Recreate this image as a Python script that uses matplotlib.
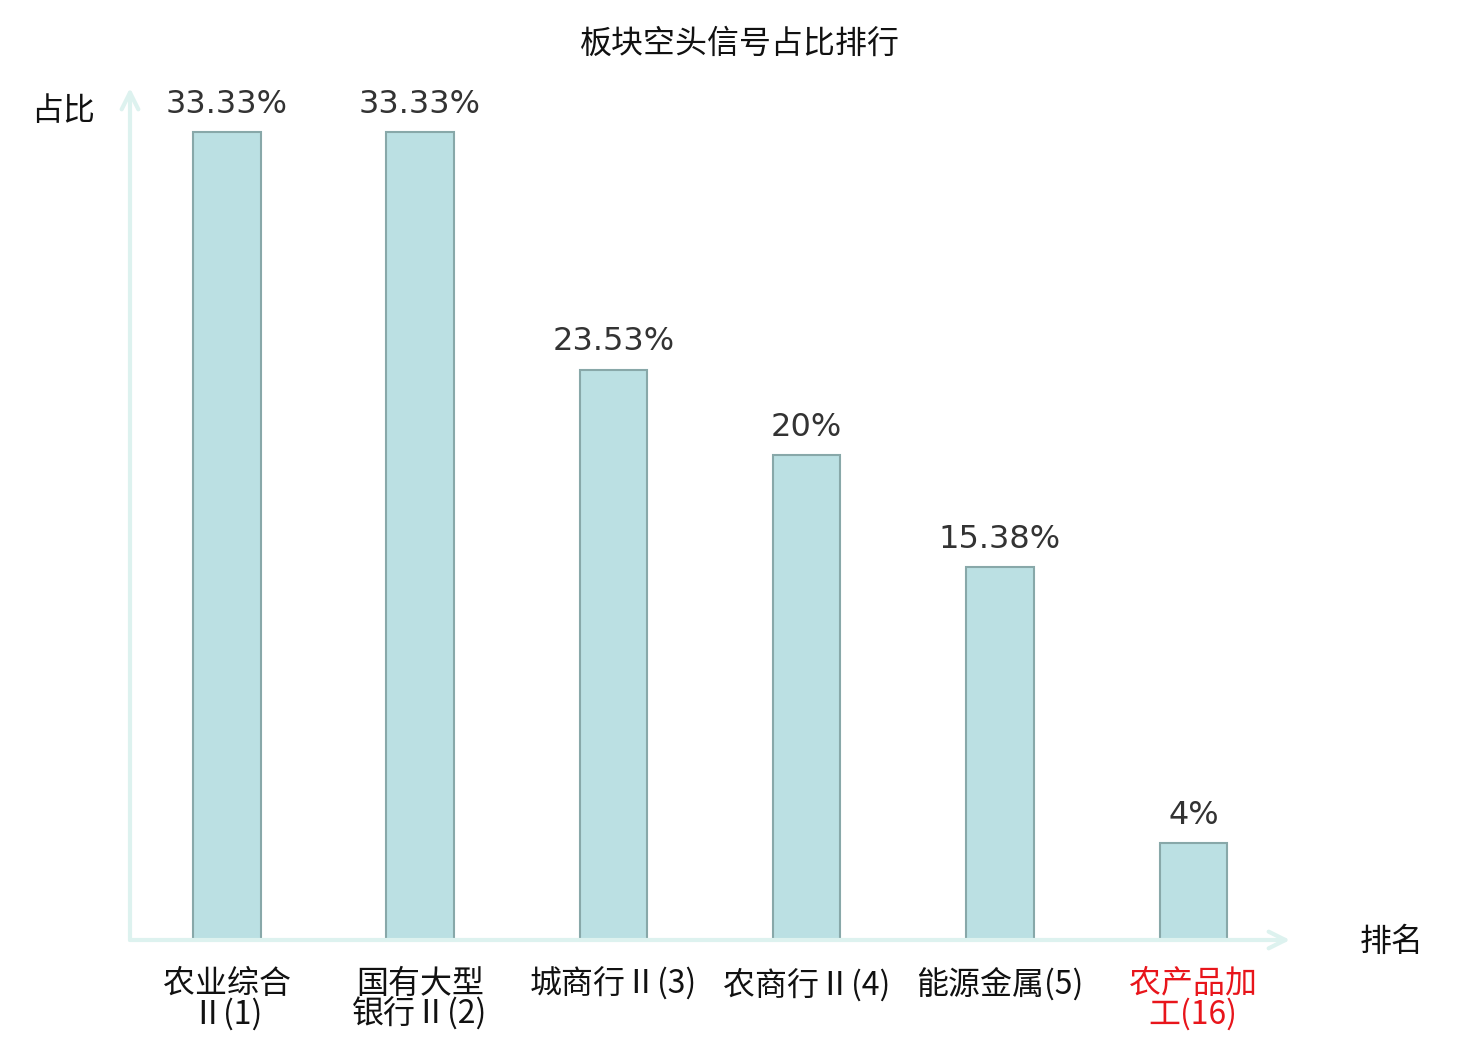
import matplotlib
matplotlib.use("Agg")
import matplotlib.pyplot as plt

categories = ["农业综合\nⅡ(1)", "国有大型\n银行Ⅱ(2)", "城商行Ⅱ(3)", "农商行Ⅱ(4)", "能源金属(5)", "农产品加\n工(16)"]
values = [33.33, 33.33, 23.53, 20, 15.38, 4]
value_labels = ["33.33%", "33.33%", "23.53%", "20%", "15.38%", "4%"]
label_colors = ["#111111", "#111111", "#111111", "#111111", "#111111", "#e8151b"]
title = "板块空头信号占比排行"
ylabel = "占比"
xlabel = "排名"

CJK = ["Noto Sans CJK SC", "DejaVu Sans"]
plt.rcParams["font.family"] = CJK

W, H = 1480, 1040
fig = plt.figure(figsize=(W / 100, H / 100), dpi=100)
ax = fig.add_axes([130 / W, 100 / H, 1160 / W, 852 / H])

x = list(range(len(values)))
ax.bar(x, values, width=0.35, color="#bbe0e3", edgecolor="#88a8a9", linewidth=1.5, zorder=3)
ax.set_xlim(-0.5, 5.5)
ax.set_ylim(0, 35.15)

for xi, v, lab in zip(x, values, value_labels):
    ax.annotate(lab, (xi, v), xytext=(0, 9), textcoords="offset points",
                ha="center", va="bottom", fontsize=23, color="#333333",
                family=["DejaVu Sans"])

for s in ax.spines.values():
    s.set_visible(False)
ax.set_yticks([])
ax.set_xticks(x)
ax.set_xticklabels(categories, fontsize=23, linespacing=0.92)
for t, c in zip(ax.get_xticklabels(), label_colors):
    t.set_color(c)
ax.tick_params(axis="x", length=0, pad=20)

arrow_color = "#ddf2ef"
ax.annotate("", xy=(1, 0), xytext=(0, 0), xycoords="axes fraction",
            arrowprops=dict(arrowstyle="->", color=arrow_color, lw=3, mutation_scale=30,
                            shrinkA=0, shrinkB=0), annotation_clip=False)
ax.annotate("", xy=(0, 1), xytext=(0, 0), xycoords="axes fraction",
            arrowprops=dict(arrowstyle="->", color=arrow_color, lw=3, mutation_scale=30,
                            shrinkA=0, shrinkB=0), annotation_clip=False)

fig.text(740 / W, 1 - 44 / H, title, ha="center", va="center", fontsize=23, color="#111111")
fig.text(63 / W, 1 - 111 / H, ylabel, ha="center", va="center", fontsize=23, color="#111111")
fig.text(1392 / W, 1 - 942 / H, xlabel, ha="center", va="center", fontsize=23, color="#111111")

fig.savefig("out.png", dpi=100)
